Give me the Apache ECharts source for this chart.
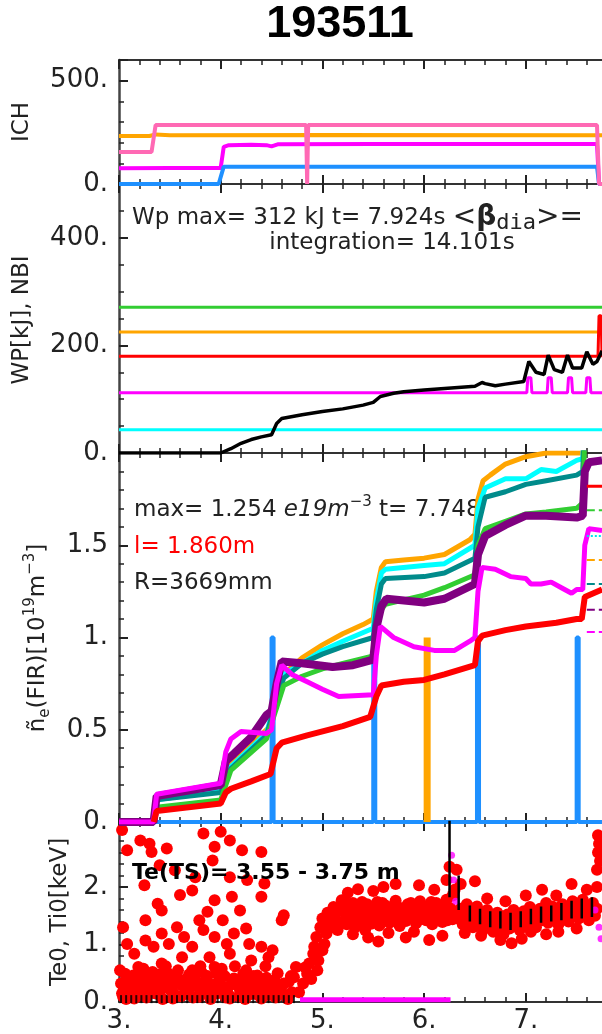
<!DOCTYPE html>
<html>
<head>
<meta charset="utf-8">
<script src="https://cdn.jsdelivr.net/npm/echarts@6/dist/echarts.min.js"></script>
<style>
  html, body { margin: 0; padding: 0; background: #fff; overflow: hidden; }
  #chart { width: 640px; height: 1034px; }
</style>
</head>
<body>
<div id="chart"></div>
<script>
// ---- data (time in s) ----
const shotNo = '193511'

// ICH panel
const ichOrange = [[3, 232], [3.3, 232], [3.36, 240], [3.5, 236], [5, 237], [7.75, 236], [8, 236]]
const ichMagenta = [[3, 76], [3.5, 77], [4.0, 78], [4.03, 180], [4.08, 188], [4.3, 190], [4.45, 188], [4.5, 182], [4.56, 192], [5.5, 194], [7.70, 194], [7.72, 0], [8, 0]]
const ichBlue = [[3, 0], [3.98, 0], [4.03, 84], [7.70, 84], [7.72, 0], [8, 0]]
const ichPink = [[3, 155], [3.32, 155], [3.36, 285], [4.84, 285], [4.85, 0], [4.86, 285], [7.70, 285], [7.72, 0], [8, 0]]

// WP / NBI panel
const nbiGreen = [[3, 271], [8, 271]]
const nbiOrange = [[3, 225], [8, 225]]
const nbiRed = [[3, 180], [7.71, 180], [7.72, 255], [7.74, 255], [7.75, 180], [8, 180]]
const nbiMagenta = [[3, 112], [7.01, 112], [7.02, 140], [7.05, 140], [7.06, 112], [7.21, 112], [7.22, 140], [7.25, 140], [7.26, 112],
  [7.41, 112], [7.42, 140], [7.45, 140], [7.46, 112], [7.59, 112], [7.6, 140], [7.63, 140], [7.64, 112], [8, 112]]
const nbiCyan = [[3, 43], [8, 43]]
const wpBlack = [[3, 0], [4.0, 0], [4.1, 8], [4.2, 18], [4.3, 25], [4.4, 30], [4.5, 34], [4.55, 55], [4.6, 64], [4.8, 71], [5.0, 77],
  [5.2, 82], [5.4, 89], [5.5, 94], [5.57, 105], [5.7, 111], [5.8, 114], [6.0, 117], [6.2, 120], [6.5, 124], [6.57, 131], [6.6, 129],
  [6.7, 125], [6.8, 128], [6.98, 133], [7.03, 170], [7.1, 150], [7.18, 146], [7.22, 182], [7.28, 155], [7.36, 150], [7.41, 182],
  [7.46, 158], [7.55, 158], [7.6, 188], [7.66, 165], [7.7, 170], [7.75, 190]]

// density panel
const neOrange = [[3.34, 0], [3.37, 0.13], [3.7, 0.16], [4.0, 0.19], [4.05, 0.25], [4.1, 0.32], [4.3, 0.42], [4.45, 0.50], [4.5, 0.52],
  [4.55, 0.70], [4.62, 0.80], [4.8, 0.89], [5.0, 0.96], [5.2, 1.02], [5.4, 1.07], [5.5, 1.10], [5.53, 1.25], [5.58, 1.38], [5.62, 1.41],
  [5.8, 1.42], [6.0, 1.43], [6.2, 1.45], [6.45, 1.53], [6.5, 1.56], [6.53, 1.75], [6.58, 1.85], [6.65, 1.88], [6.8, 1.94], [7.0, 1.98],
  [7.2, 2.0], [7.5, 2.0], [7.56, 2.0], [7.58, 2.2], [7.75, 2.25]]
const neCyan = [[3.34, 0], [3.37, 0.12], [4.0, 0.17], [4.1, 0.30], [4.45, 0.48], [4.55, 0.68], [4.62, 0.80], [4.8, 0.86], [5.0, 0.93],
  [5.2, 0.98], [5.5, 1.05], [5.53, 1.2], [5.58, 1.35], [5.62, 1.37], [6.0, 1.39], [6.2, 1.40], [6.5, 1.50], [6.53, 1.7], [6.6, 1.81],
  [6.8, 1.86], [7.0, 1.86], [7.15, 1.91], [7.3, 1.9], [7.5, 1.96], [7.56, 1.97], [7.58, 2.2], [7.75, 2.25]]
const neTeal = [[3.34, 0], [3.37, 0.12], [4.0, 0.16], [4.1, 0.29], [4.45, 0.47], [4.55, 0.66], [4.62, 0.78], [4.8, 0.86], [5.0, 0.91],
  [5.2, 0.95], [5.5, 1.0], [5.53, 1.15], [5.58, 1.29], [5.62, 1.32], [6.0, 1.33], [6.2, 1.35], [6.5, 1.43], [6.53, 1.6], [6.6, 1.76],
  [6.8, 1.79], [7.0, 1.83], [7.2, 1.85], [7.5, 1.88], [7.56, 1.9], [7.58, 2.2], [7.75, 2.25]]
const neGreen = [[3.34, 0], [3.37, 0.08], [4.0, 0.12], [4.1, 0.28], [4.45, 0.45], [4.55, 0.62], [4.62, 0.74], [4.8, 0.79], [5.0, 0.83],
  [5.2, 0.86], [5.5, 0.90], [5.53, 1.05], [5.58, 1.15], [5.62, 1.18], [6.0, 1.23], [6.2, 1.27], [6.5, 1.34], [6.53, 1.5], [6.6, 1.59],
  [6.8, 1.63], [7.0, 1.67], [7.2, 1.68], [7.5, 1.70], [7.56, 1.73], [7.58, 2.1], [7.75, 2.15]]
const nePurple = [[3, 0], [3.34, 0], [3.37, 0.14], [4.0, 0.20], [4.05, 0.33], [4.13, 0.37], [4.3, 0.46], [4.45, 0.58], [4.5, 0.6],
  [4.55, 0.75], [4.6, 0.87], [4.8, 0.86], [5.1, 0.84], [5.3, 0.85], [5.5, 0.88], [5.53, 1.05], [5.58, 1.17], [5.63, 1.21], [6.0, 1.19],
  [6.2, 1.21], [6.5, 1.29], [6.53, 1.45], [6.6, 1.55], [6.8, 1.61], [7.0, 1.66], [7.2, 1.66], [7.5, 1.65], [7.56, 1.66], [7.58, 1.9],
  [7.62, 1.95], [7.75, 1.96]]
const neMagenta = [[3, 0], [3.34, 0], [3.37, 0.15], [4.0, 0.21], [4.05, 0.38], [4.1, 0.45], [4.2, 0.49], [4.45, 0.48], [4.5, 0.5],
  [4.55, 0.75], [4.6, 0.85], [4.7, 0.80], [4.85, 0.76], [5.0, 0.72], [5.16, 0.68], [5.5, 0.69], [5.53, 0.9], [5.57, 1.06], [5.7, 1.0],
  [5.9, 0.95], [6.1, 0.93], [6.3, 0.93], [6.45, 0.98], [6.5, 1.0], [6.53, 1.25], [6.57, 1.38], [6.7, 1.37], [6.85, 1.33], [7.0, 1.32],
  [7.05, 1.29], [7.15, 1.29], [7.25, 1.30], [7.35, 1.27], [7.45, 1.24], [7.5, 1.26], [7.56, 1.26], [7.58, 1.5], [7.62, 1.59], [7.75, 1.58]]
const neRed = [[3.34, 0], [3.37, 0.06], [4.0, 0.10], [4.05, 0.16], [4.1, 0.18], [4.3, 0.22], [4.49, 0.26], [4.55, 0.40], [4.6, 0.43],
  [4.85, 0.47], [5.2, 0.52], [5.47, 0.57], [5.53, 0.68], [5.58, 0.74], [5.8, 0.76], [6.0, 0.77], [6.2, 0.80], [6.5, 0.85], [6.53, 0.98],
  [6.57, 1.01], [6.8, 1.04], [7.0, 1.06], [7.3, 1.08], [7.5, 1.10], [7.55, 1.10], [7.58, 1.22], [7.75, 1.26]]
const neBluePulse = [[3.35, 0], [4.5, 0], [4.5, 1.0], [4.52, 1.0], [4.52, 0], [5.5, 0], [5.5, 1.0], [5.52, 1.0], [5.52, 0],
  [6.52, 0], [6.52, 1.0], [6.54, 1.0], [6.54, 0], [7.5, 0], [7.5, 1.0], [7.52, 1.0], [7.52, 0], [8, 0]]
const neOrangePulse = [[6.03, 0], [6.03, 1.0]]
const neRefStart = 7.6
const neRefLevels = [1.82, 1.69, 1.55, 1.42, 1.29, 1.15, 1.03]

// Te / Ti panel
const teDots = [
  [3.03, 2.99], [3.08, 2.64], [3.21, 2.81], [3.30, 2.75], [3.32, 2.61], [3.47, 2.67], [3.25, 2.03], [3.40, 2.38], [3.38, 1.71],
  [3.26, 1.42], [3.83, 2.93], [3.94, 2.70], [4.00, 2.96], [4.09, 2.81], [3.92, 2.46], [3.75, 2.17], [3.60, 1.86], [3.42, 1.59],
  [4.21, 2.64], [4.40, 2.61], [4.09, 2.17], [4.26, 2.12], [4.43, 2.06], [4.11, 1.83], [4.40, 1.83], [3.87, 1.57], [4.62, 1.51],
  [4.60, 1.42], [3.55, 2.29], [3.72, 1.94], [3.94, 1.77], [4.02, 1.42], [4.19, 1.59],
  [3.04, 1.30], [3.08, 1.01], [3.15, 0.84], [3.26, 1.07], [3.34, 0.96], [3.42, 1.19], [3.49, 1.01], [3.57, 1.30], [3.64, 1.13],
  [3.72, 0.96], [3.79, 1.42], [3.83, 1.25], [3.94, 1.13], [4.06, 1.01], [4.13, 1.19], [4.25, 1.28], [4.28, 1.01], [4.40, 0.96],
  [4.47, 0.78], [4.51, 0.90], [4.30, 0.72], [4.09, 0.84], [3.89, 0.78], [3.62, 0.78], [3.42, 0.67], [3.19, 0.61], [4.25, 0.55],
  [3.94, 0.61], [3.72, 0.55],
  [3.02, 0.32], [3.06, 0.49], [3.11, 0.20], [3.17, 0.38], [3.23, 0.14], [3.28, 0.43], [3.34, 0.26], [3.40, 0.12], [3.45, 0.38],
  [3.51, 0.20], [3.57, 0.43], [3.62, 0.29], [3.68, 0.14], [3.74, 0.43], [3.79, 0.23], [3.85, 0.38], [3.91, 0.14], [3.96, 0.49],
  [4.02, 0.26], [4.08, 0.12], [4.13, 0.41], [4.19, 0.20], [4.25, 0.35], [4.30, 0.14], [4.36, 0.46], [4.42, 0.26], [4.47, 0.12],
  [4.53, 0.38], [4.58, 0.20], [4.64, 0.12], [4.70, 0.17], [3.04, 0.09], [3.15, 0.06], [3.53, 0.06], [3.79, 0.09], [4.09, 0.06],
  [4.40, 0.06], [4.62, 0.32], [3.19, 0.26], [4.06, 0.20],
  [3.01, 0.55], [3.05, 0.22], [3.09, 0.40], [3.13, 0.12], [3.21, 0.45], [3.25, 0.30], [3.29, 0.18], [3.33, 0.52], [3.37, 0.35],
  [3.44, 0.25], [3.48, 0.50], [3.55, 0.32], [3.66, 0.40], [3.70, 0.25], [3.81, 0.52], [3.88, 0.30], [3.99, 0.35], [4.04, 0.45],
  [4.16, 0.30], [4.22, 0.48], [4.34, 0.30], [4.45, 0.42], [4.56, 0.50], [4.67, 0.35],
  [3.03, 0.15], [3.07, 0.05], [3.10, 0.28], [3.14, 0.46], [3.18, 0.10], [3.20, 0.33], [3.24, 0.58], [3.27, 0.08], [3.31, 0.36],
  [3.35, 0.15], [3.39, 0.48], [3.43, 0.05], [3.46, 0.62], [3.50, 0.35], [3.54, 0.15], [3.58, 0.55], [3.61, 0.10], [3.65, 0.22],
  [3.69, 0.48], [3.73, 0.08], [3.77, 0.33], [3.80, 0.62], [3.84, 0.18], [3.87, 0.45], [3.90, 0.05], [3.93, 0.30], [3.97, 0.15],
  [4.01, 0.58], [4.05, 0.08], [4.10, 0.30], [4.14, 0.62], [4.18, 0.10], [4.21, 0.38], [4.24, 0.05], [4.28, 0.22], [4.32, 0.45],
  [4.37, 0.12], [4.41, 0.35], [4.44, 0.62], [4.49, 0.25], [4.54, 0.08], [4.60, 0.28], [4.66, 0.05], [4.69, 0.45],
  [4.77, 0.17], [4.81, 0.32], [4.85, 0.49], [4.87, 0.67], [4.91, 0.84], [4.92, 0.96], [4.94, 1.13], [4.98, 1.30], [5.00, 1.45],
  [5.02, 1.01], [5.04, 1.19], [5.06, 1.36], [5.08, 1.54], [5.11, 1.65], [5.13, 1.42], [5.15, 1.25], [5.17, 1.59], [5.19, 1.77],
  [5.21, 1.39], [5.25, 1.71], [4.74, 0.61], [4.72, 0.43], [4.96, 0.72], [4.83, 0.60], [4.89, 0.40], [4.95, 0.55], [5.00, 0.90],
  [5.05, 1.55], [5.10, 1.30],
  [5.22, 1.55], [5.24, 1.35], [5.26, 1.62], [5.28, 1.45], [5.30, 1.72], [5.32, 1.30], [5.34, 1.52], [5.36, 1.66], [5.38, 1.40],
  [5.40, 1.58], [5.42, 1.25], [5.44, 1.70], [5.46, 1.48], [5.48, 1.36], [5.50, 1.62], [5.52, 1.50], [5.54, 1.74], [5.56, 1.33],
  [5.58, 1.56], [5.60, 1.44], [5.62, 1.68], [5.64, 1.52], [5.66, 1.38], [5.68, 1.60], [5.70, 1.47], [5.72, 1.76], [5.74, 1.55],
  [5.76, 1.32], [5.78, 1.63], [5.80, 1.50], [5.82, 1.41], [5.84, 1.70], [5.86, 1.56], [5.88, 1.45], [5.90, 1.62], [5.92, 1.37],
  [5.94, 1.53], [5.96, 1.75], [5.98, 1.48], [6.00, 1.60], [6.02, 1.42], [6.04, 1.66], [6.06, 1.52], [6.08, 1.35], [6.10, 1.58],
  [6.12, 1.72], [6.14, 1.46], [6.16, 1.61], [6.18, 1.39], [6.20, 1.55], [6.22, 1.78], [6.24, 1.50], [6.26, 1.63], [6.28, 1.44],
  [6.30, 1.57],
  [5.23, 1.45], [5.27, 1.68], [5.31, 1.50], [5.35, 1.42], [5.39, 1.74], [5.43, 1.55], [5.47, 1.60], [5.51, 1.40], [5.55, 1.64],
  [5.59, 1.72], [5.63, 1.45], [5.67, 1.53], [5.71, 1.64], [5.75, 1.44], [5.79, 1.56], [5.83, 1.60], [5.87, 1.72], [5.91, 1.50],
  [5.95, 1.43], [5.99, 1.66], [6.03, 1.55], [6.07, 1.74], [6.11, 1.48], [6.15, 1.56], [6.19, 1.68], [6.23, 1.42], [6.27, 1.52],
  [5.25, 1.90], [5.35, 1.96], [5.50, 1.93], [5.60, 2.00], [5.72, 2.05], [5.95, 2.03], [6.10, 1.95], [6.22, 2.12], [5.45, 1.12],
  [5.55, 1.05], [5.82, 1.12], [6.05, 1.08], [5.30, 1.18], [5.65, 1.20], [5.90, 1.22], [6.18, 1.15], [6.25, 2.35], [6.32, 2.30],
  [6.28, 1.85], [6.30, 1.95],
  [6.34, 1.45], [6.36, 1.62], [6.38, 1.35], [6.40, 1.55], [6.42, 1.70], [6.44, 1.42], [6.46, 1.58], [6.48, 1.30], [6.50, 1.50],
  [6.52, 1.66], [6.54, 1.38], [6.56, 1.52], [6.58, 1.25], [6.60, 1.45], [6.62, 1.60], [6.64, 1.32], [6.66, 1.48], [6.68, 1.22],
  [6.70, 1.40], [6.72, 1.55], [6.74, 1.30], [6.76, 1.45], [6.78, 1.18], [6.80, 1.38], [6.82, 1.52], [6.84, 1.28], [6.86, 1.42],
  [6.88, 1.60], [6.90, 1.35], [6.92, 1.48], [6.94, 1.25], [6.96, 1.42], [6.98, 1.58], [7.00, 1.32], [7.02, 1.50], [7.04, 1.65],
  [7.06, 1.40], [7.08, 1.55], [7.10, 1.30], [7.12, 1.48], [7.14, 1.62], [7.16, 1.42], [7.18, 1.56], [7.20, 1.72], [7.22, 1.38],
  [7.24, 1.52], [7.26, 1.66], [7.28, 1.45], [7.30, 1.60], [7.32, 1.35], [7.34, 1.55], [7.36, 1.70], [7.38, 1.48], [7.40, 1.62],
  [7.42, 1.40], [7.44, 1.58], [7.46, 1.75], [7.48, 1.50], [7.50, 1.65], [7.52, 1.45], [7.54, 1.60], [7.56, 1.78], [7.58, 1.52],
  [7.60, 1.66], [7.62, 1.42], [7.64, 1.58], [7.66, 1.72], [7.68, 1.50], [7.70, 1.62],
  [6.36, 2.05], [6.50, 2.10], [6.62, 1.80], [6.80, 1.75], [7.00, 1.85], [7.16, 1.95], [7.30, 1.85], [7.45, 2.05], [7.60, 1.95],
  [6.40, 1.20], [6.56, 1.15], [6.75, 1.08], [6.86, 1.02], [6.96, 1.10], [7.05, 1.22], [7.20, 1.18], [7.32, 1.22], [7.50, 1.28],
  [7.70, 2.0], [7.70, 2.3], [7.71, 2.6], [7.71, 2.9], [7.72, 2.75], [7.73, 2.45]
]
// Ti0 bars: [t, low, high]
const tiBars = [[6.25, 1.82, 3.2], [6.34, 1.60, 2.20], [6.45, 1.40, 1.68], [6.55, 1.35, 1.62], [6.65, 1.30, 1.58], [6.75, 1.28, 1.58],
  [6.85, 1.25, 1.55], [6.95, 1.30, 1.58], [7.05, 1.35, 1.62], [7.15, 1.38, 1.66], [7.25, 1.40, 1.68], [7.35, 1.42, 1.72],
  [7.45, 1.45, 1.76], [7.55, 1.45, 1.80], [7.65, 1.48, 1.82]]
const tiZeroT = [3.02, 3.07, 3.12, 3.17, 3.22, 3.27, 3.32, 3.37, 3.42, 3.47, 3.52, 3.57, 3.62, 3.67, 3.72, 3.77, 3.82, 3.87, 3.92,
  3.97, 4.02, 4.07, 4.12, 4.17, 4.22, 4.27, 4.32, 4.37, 4.42, 4.47, 4.52, 4.57, 4.62, 4.67, 4.72]
const tiMagentaBase = [[4.78, 0.04], [6.26, 0.04]]
const tiMagentaPts = [[6.27, 2.55], [6.29, 2.12], [6.31, 1.75]]
const tiMagentaEdge = [[7.68, 1.6], [7.72, 1.3], [7.74, 1.1]]

// axis ranges and tick labels
const xTicks = [3, 4, 5, 6, 7]
const yMax = [600, 500, 2, 3.13]
const yMajor = [500, 200, 0.5, 1]
const yMinor = [100, 50, 0.1, 0.2]
const yTickLabels = [
  [[0, '0.'], [500, '500.']],
  [[0, '0.'], [200, '200.'], [400, '400.']],
  [[0, '0.'], [0.5, '0.5'], [1, '1.'], [1.5, '1.5']],
  [[0, '0.'], [1, '1.'], [2, '2.']],
]

// ---- layout ----
const panels = [
  { top: 60, height: 124 },
  { top: 184, height: 269 },
  { top: 453, height: 369 },
  { top: 822, height: 180 },
]
const FONT = 'DejaVu Sans'
const INK = '#222'

const grid = panels.map(p => ({ left: 119, width: 508.5, top: p.top, height: p.height, outerBoundsMode: 'none', containLabel: false }))

const xAxis = []
panels.forEach((p, i) => {
  ;['bottom', 'top'].forEach(pos => {
    xAxis.push({
      type: 'value', gridIndex: i, position: pos, min: 3, max: 8, interval: 1,
      axisLine: { onZero: false, lineStyle: { color: '#333', width: 2 } },
      axisTick: { inside: true, length: 9, lineStyle: { color: INK, width: 2 } },
      minorTick: { show: true, splitNumber: 5, length: 5, lineStyle: { color: INK, width: 1.5 } },
      splitLine: { show: false },
      axisLabel: {
        show: i === 3 && pos === 'bottom', margin: 6, fontSize: 26, fontFamily: FONT, color: INK,
        formatter: v => xTicks.includes(v) ? v + '.' : '',
      },
    })
  })
})

const yAxis = []
panels.forEach((p, i) => {
  const labels = new Map(yTickLabels[i])
  yAxis.push({
    type: 'value', gridIndex: i, position: 'left', min: 0, max: yMax[i], interval: yMajor[i],
    axisLine: { onZero: false, lineStyle: { color: '#444', width: 2.5 } },
    axisTick: { inside: true, length: 9, lineStyle: { color: INK, width: 2 } },
    splitLine: { show: false },
    axisLabel: { margin: 11, fontSize: 26, fontFamily: FONT, color: INK, formatter: v => labels.get(v) || '' },
  })
  yAxis.push({
    type: 'value', gridIndex: i, position: 'left', min: 0, max: yMax[i], interval: yMinor[i],
    axisLine: { show: false },
    axisTick: { inside: true, length: 5, lineStyle: { color: INK, width: 1.5 } },
    splitLine: { show: false },
    axisLabel: { show: false },
  })
})

function line(panel, data, color, width, type) {
  return {
    type: 'line', xAxisIndex: panel * 2, yAxisIndex: panel * 2, data,
    symbol: 'none', silent: true,
    lineStyle: { color, width, type: type || 'solid' },
  }
}

const refColors = ['#ff0000', '#32cd32', '#00e5ee', '#ffa500', '#008b8b', '#800080', '#ff00ff']
const refTypes = ['solid', 'dashed', 'dotted', 'dashed', 'dashed', 'dashed', 'dashed']

const tiBarData = []
tiBars.forEach(([t, lo, hi]) => { tiBarData.push([t, lo], [t, hi], [t, '-']) })

const series = [
  line(0, ichOrange, '#ffa500', 4),
  line(0, ichMagenta, '#ff00ff', 4),
  line(0, ichBlue, '#1e90ff', 4),
  line(0, ichPink, '#ff69b4', 4),

  line(1, nbiGreen, '#32cd32', 3),
  line(1, nbiOrange, '#ffa500', 3),
  line(1, nbiRed, '#ff0000', 3),
  line(1, nbiMagenta, '#ff00ff', 3),
  line(1, nbiCyan, '#00ffff', 3),
  line(1, wpBlack, '#000', 3.5),

  line(2, neBluePulse, '#1e90ff', 4),
  line(2, neOrangePulse, '#ffa500', 7),
  line(2, neOrange, '#ffa500', 5),
  line(2, neCyan, '#00ffff', 5),
  line(2, neTeal, '#008b8b', 5),
  line(2, neGreen, '#32cd32', 5),
  line(2, nePurple, '#800080', 8),
  line(2, neMagenta, '#ff00ff', 5),
  line(2, neRed, '#ff0000', 6),
  ...neRefLevels.map((v, k) => line(2, [[neRefStart, v], [8, v]], refColors[k], k === 0 ? 3 : 2, refTypes[k])),

  {
    type: 'scatter', xAxisIndex: 6, yAxisIndex: 6, data: teDots, silent: true,
    symbol: 'circle', symbolSize: 12, itemStyle: { color: '#ff0000', opacity: 1 },
  },
  line(3, tiMagentaBase, '#ff00ff', 5),
  {
    type: 'scatter', xAxisIndex: 6, yAxisIndex: 6, data: tiMagentaPts.concat(tiMagentaEdge), silent: true,
    symbolSize: 7, itemStyle: { color: '#ff00ff' },
  },
  {
    type: 'scatter', xAxisIndex: 6, yAxisIndex: 6, data: tiZeroT.map(t => [t, 0.05]), silent: true,
    symbol: 'rect', symbolSize: [2, 8], itemStyle: { color: '#000' },
  },
  line(3, tiBarData, '#000', 2.5),
]

const txt = { fontFamily: FONT, fontSize: 23, fill: INK }
const sup = { fontFamily: FONT, fontSize: 15, fill: INK, verticalAlign: 'top' }
const sub = { fontFamily: FONT, fontSize: 15, fill: INK, verticalAlign: 'bottom' }

const graphic = [
  {
    type: 'text', x: 340, y: 25, z: 10,
    style: { text: shotNo, fontFamily: 'Liberation Sans', fontWeight: 'bold', fontSize: 45, fill: '#000', align: 'center', verticalAlign: 'middle' },
  },
  {
    type: 'text', x: 22, y: 122, rotation: Math.PI / 2,
    style: { text: 'ICH', fontFamily: FONT, fontSize: 23, fill: INK, align: 'center', verticalAlign: 'middle' },
  },
  {
    type: 'text', x: 22, y: 320, rotation: Math.PI / 2,
    style: { text: 'WP[kJ], NBI', fontFamily: FONT, fontSize: 23, fill: INK, align: 'center', verticalAlign: 'middle' },
  },
  {
    type: 'text', x: 38, y: 638, rotation: Math.PI / 2,
    style: {
      text: '{a|ñ}{s|e}{a|(FIR)[10}{p|19}{a|m}{p|−3}{a|]}', align: 'center', verticalAlign: 'middle',
      rich: { a: { ...txt, lineHeight: 30 }, p: { ...sup, lineHeight: 30 }, s: { ...sub, lineHeight: 30 } },
    },
  },
  {
    type: 'text', x: 60, y: 912, rotation: Math.PI / 2,
    style: { text: 'Te0, Ti0[keV]', fontFamily: FONT, fontSize: 23, fill: INK, align: 'center', verticalAlign: 'middle' },
  },
  {
    type: 'text', x: 132, y: 218,
    style: {
      text: '{a|Wp max= 312 kJ t= 7.924s }{g|<}{b|β}{s|dia}{g|>=}', align: 'left', verticalAlign: 'middle',
      rich: {
        a: { ...txt, lineHeight: 32 },
        g: { fontFamily: FONT, fontSize: 28, fill: INK, lineHeight: 32 },
        b: { fontFamily: FONT, fontWeight: 'bold', fontSize: 28, fill: INK, lineHeight: 32 },
        s: { fontFamily: 'DejaVu Sans Mono', fontSize: 22, fill: INK, verticalAlign: 'bottom', lineHeight: 32 },
      },
    },
  },
  {
    type: 'text', x: 392, y: 243,
    style: { text: 'integration= 14.101s', fontFamily: FONT, fontSize: 23, fill: INK, align: 'center', verticalAlign: 'middle' },
  },
  {
    type: 'text', x: 134, y: 510,
    style: {
      text: '{a|max= 1.254 }{i|e19m}{p|−3}{a| t= 7.748}', align: 'left', verticalAlign: 'middle',
      rich: { a: { ...txt, lineHeight: 30 }, i: { ...txt, fontStyle: 'italic', lineHeight: 30 }, p: { ...sup, lineHeight: 30 } },
    },
  },
  {
    type: 'text', x: 134, y: 547,
    style: { text: 'l= 1.860m', fontFamily: FONT, fontSize: 23, fill: '#ff0000', align: 'left', verticalAlign: 'middle' },
  },
  {
    type: 'text', x: 134, y: 583,
    style: { text: 'R=3669mm', fontFamily: FONT, fontSize: 23, fill: INK, align: 'left', verticalAlign: 'middle' },
  },
  {
    type: 'text', x: 132, y: 873, z: 10,
    style: { text: 'Te(TS)= 3.55 - 3.75 m', fontFamily: FONT, fontWeight: 'bold', fontSize: 22, fill: '#000', align: 'left', verticalAlign: 'middle' },
  },
]

const chart = echarts.init(document.getElementById('chart'), null, { renderer: 'canvas' })
chart.setOption({ animation: false, backgroundColor: '#fff', grid, xAxis, yAxis, series, graphic })
</script>
</body>
</html>
